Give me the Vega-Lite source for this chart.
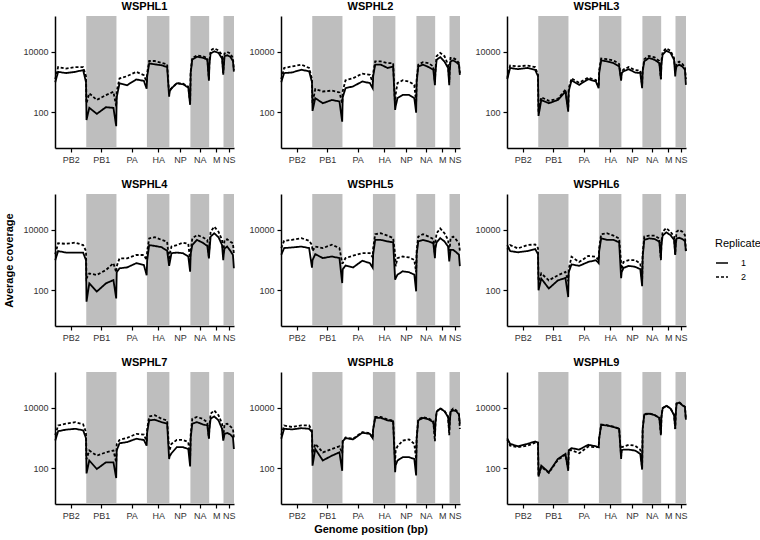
{
"$schema": "https://vega.github.io/schema/vega-lite/v6.json",
"padding": {"left": 3, "top": 1, "right": 0, "bottom": 2},
"background": "white",
"datasets": {
"seg": [{"g":"PB1","start":2380,"end":4680},{"g":"HA","start":7000,"end":8710},{"g":"NA","start":10310,"end":11740},{"g":"NS","start":12830,"end":13630}],
"cov": [
{"s":"WSPHL1","x":20,"1":1000,"2":1260},{"s":"WSPHL1","x":238,"1":2190,"2":3160},{"s":"WSPHL1","x":833,"1":2000,"2":2820},{"s":"WSPHL1","x":1547,"1":2190,"2":3160},{"s":"WSPHL1","x":2142,"1":2510,"2":3160},{"s":"WSPHL1","x":2360,"1":1000,"2":1580},
{"s":"WSPHL1","x":2400,"1":56,"2":200},{"s":"WSPHL1","x":2610,"1":141,"2":427},{"s":"WSPHL1","x":3185,"1":89,"2":257},{"s":"WSPHL1","x":3875,"1":148,"2":372},{"s":"WSPHL1","x":4450,"1":141,"2":479},{"s":"WSPHL1","x":4660,"1":35,"2":158},
{"s":"WSPHL1","x":4700,"1":316,"2":501},{"s":"WSPHL1","x":4912,"1":912,"2":1320},{"s":"WSPHL1","x":5492,"1":794,"2":1580},{"s":"WSPHL1","x":6188,"1":1230,"2":2190},{"s":"WSPHL1","x":6768,"1":1100,"2":1700},{"s":"WSPHL1","x":6980,"1":603,"2":1000},
{"s":"WSPHL1","x":7020,"1":1580,"2":2000},{"s":"WSPHL1","x":7171,"1":4170,"2":5010},{"s":"WSPHL1","x":7599,"1":3890,"2":5010},{"s":"WSPHL1","x":8112,"1":3630,"2":4370},{"s":"WSPHL1","x":8539,"1":3160,"2":3890},{"s":"WSPHL1","x":8690,"1":331,"2":398},
{"s":"WSPHL1","x":8730,"1":501,"2":562},{"s":"WSPHL1","x":8870,"1":617,"2":631},{"s":"WSPHL1","x":9270,"1":912,"2":933},{"s":"WSPHL1","x":9750,"1":851,"2":891},{"s":"WSPHL1","x":10150,"1":661,"2":708},{"s":"WSPHL1","x":10290,"1":178,"2":200},
{"s":"WSPHL1","x":10330,"1":2000,"2":2240},{"s":"WSPHL1","x":10453,"1":5620,"2":6310},{"s":"WSPHL1","x":10811,"1":6920,"2":7590},{"s":"WSPHL1","x":11240,"1":6460,"2":7240},{"s":"WSPHL1","x":11597,"1":5620,"2":6310},{"s":"WSPHL1","x":11720,"1":1120,"2":1260},
{"s":"WSPHL1","x":11760,"1":3980,"2":5010},{"s":"WSPHL1","x":11849,"1":8910,"2":11200},{"s":"WSPHL1","x":12122,"1":10500,"2":13200},{"s":"WSPHL1","x":12449,"1":9330,"2":11200},{"s":"WSPHL1","x":12721,"1":6030,"2":7940},{"s":"WSPHL1","x":12810,"1":1780,"2":2000},
{"s":"WSPHL1","x":12850,"1":3160,"2":3980},{"s":"WSPHL1","x":12910,"1":7240,"2":8910},{"s":"WSPHL1","x":13110,"1":7760,"2":10000},{"s":"WSPHL1","x":13350,"1":6920,"2":8910},{"s":"WSPHL1","x":13550,"1":5010,"2":6310},{"s":"WSPHL1","x":13620,"1":2240,"2":2510},

{"s":"WSPHL2","x":20,"1":1000,"2":1260},{"s":"WSPHL2","x":238,"1":2000,"2":2950},{"s":"WSPHL2","x":833,"1":2090,"2":3310},{"s":"WSPHL2","x":1547,"1":2570,"2":3800},{"s":"WSPHL2","x":2142,"1":2290,"2":2950},{"s":"WSPHL2","x":2360,"1":1000,"2":1260},
{"s":"WSPHL2","x":2400,"1":112,"2":200},{"s":"WSPHL2","x":2610,"1":295,"2":589},{"s":"WSPHL2","x":3185,"1":200,"2":490},{"s":"WSPHL2","x":3875,"1":257,"2":525},{"s":"WSPHL2","x":4450,"1":229,"2":457},{"s":"WSPHL2","x":4660,"1":49,"2":200},
{"s":"WSPHL2","x":4700,"1":316,"2":501},{"s":"WSPHL2","x":4912,"1":631,"2":1150},{"s":"WSPHL2","x":5492,"1":724,"2":1350},{"s":"WSPHL2","x":6188,"1":1050,"2":1910},{"s":"WSPHL2","x":6768,"1":933,"2":1740},{"s":"WSPHL2","x":6980,"1":631,"2":1000},
{"s":"WSPHL2","x":7020,"1":1580,"2":2000},{"s":"WSPHL2","x":7171,"1":3800,"2":4900},{"s":"WSPHL2","x":7599,"1":3800,"2":4900},{"s":"WSPHL2","x":8112,"1":2950,"2":4270},{"s":"WSPHL2","x":8539,"1":3310,"2":4270},{"s":"WSPHL2","x":8690,"1":120,"2":158},
{"s":"WSPHL2","x":8730,"1":158,"2":398},{"s":"WSPHL2","x":8870,"1":295,"2":933},{"s":"WSPHL2","x":9270,"1":380,"2":1150},{"s":"WSPHL2","x":9750,"1":380,"2":1050},{"s":"WSPHL2","x":10150,"1":295,"2":813},{"s":"WSPHL2","x":10290,"1":98,"2":200},
{"s":"WSPHL2","x":10330,"1":1000,"2":1260},{"s":"WSPHL2","x":10453,"1":3310,"2":3800},{"s":"WSPHL2","x":10811,"1":3800,"2":4570},{"s":"WSPHL2","x":11240,"1":3160,"2":4270},{"s":"WSPHL2","x":11597,"1":2570,"2":3310},{"s":"WSPHL2","x":11720,"1":794,"2":1000},
{"s":"WSPHL2","x":11760,"1":2000,"2":2510},{"s":"WSPHL2","x":11849,"1":5500,"2":7240},{"s":"WSPHL2","x":12122,"1":6760,"2":9330},{"s":"WSPHL2","x":12449,"1":4790,"2":7240},{"s":"WSPHL2","x":12721,"1":2950,"2":3800},{"s":"WSPHL2","x":12810,"1":794,"2":1000},
{"s":"WSPHL2","x":12850,"1":2510,"2":3160},{"s":"WSPHL2","x":12910,"1":4900,"2":6310},{"s":"WSPHL2","x":13110,"1":5250,"2":6310},{"s":"WSPHL2","x":13350,"1":4570,"2":5500},{"s":"WSPHL2","x":13550,"1":3800,"2":4270},{"s":"WSPHL2","x":13620,"1":1740,"2":2000},

{"s":"WSPHL3","x":20,"1":1260,"2":1410},{"s":"WSPHL3","x":238,"1":2950,"2":3550},{"s":"WSPHL3","x":833,"1":2690,"2":3310},{"s":"WSPHL3","x":1547,"1":2950,"2":3550},{"s":"WSPHL3","x":2142,"1":2570,"2":3160},{"s":"WSPHL3","x":2360,"1":1580,"2":1780},
{"s":"WSPHL3","x":2400,"1":76,"2":100},{"s":"WSPHL3","x":2610,"1":257,"2":316},{"s":"WSPHL3","x":3185,"1":200,"2":240},{"s":"WSPHL3","x":3875,"1":257,"2":282},{"s":"WSPHL3","x":4450,"1":490,"2":562},{"s":"WSPHL3","x":4660,"1":105,"2":126},
{"s":"WSPHL3","x":4700,"1":501,"2":631},{"s":"WSPHL3","x":4912,"1":1150,"2":1320},{"s":"WSPHL3","x":5492,"1":813,"2":955},{"s":"WSPHL3","x":6188,"1":1260,"2":1410},{"s":"WSPHL3","x":6768,"1":1050,"2":1170},{"s":"WSPHL3","x":6980,"1":631,"2":708},
{"s":"WSPHL3","x":7020,"1":2000,"2":2510},{"s":"WSPHL3","x":7171,"1":5250,"2":6030},{"s":"WSPHL3","x":7599,"1":4900,"2":5750},{"s":"WSPHL3","x":8112,"1":4270,"2":5250},{"s":"WSPHL3","x":8539,"1":3310,"2":3980},{"s":"WSPHL3","x":8690,"1":1120,"2":1260},
{"s":"WSPHL3","x":8730,"1":2000,"2":2240},{"s":"WSPHL3","x":8870,"1":2290,"2":2630},{"s":"WSPHL3","x":9270,"1":2690,"2":3160},{"s":"WSPHL3","x":9750,"1":2090,"2":2510},{"s":"WSPHL3","x":10150,"1":2000,"2":2400},{"s":"WSPHL3","x":10290,"1":631,"2":794},
{"s":"WSPHL3","x":10330,"1":2240,"2":2510},{"s":"WSPHL3","x":10453,"1":4900,"2":5750},{"s":"WSPHL3","x":10811,"1":6310,"2":7410},{"s":"WSPHL3","x":11240,"1":5500,"2":6610},{"s":"WSPHL3","x":11597,"1":4270,"2":5010},{"s":"WSPHL3","x":11720,"1":1260,"2":1260},
{"s":"WSPHL3","x":11760,"1":3980,"2":5010},{"s":"WSPHL3","x":11849,"1":8130,"2":10000},{"s":"WSPHL3","x":12122,"1":11000,"2":13200},{"s":"WSPHL3","x":12449,"1":9330,"2":11000},{"s":"WSPHL3","x":12721,"1":5500,"2":6310},{"s":"WSPHL3","x":12810,"1":1550,"2":2240},
{"s":"WSPHL3","x":12850,"1":2510,"2":3160},{"s":"WSPHL3","x":12910,"1":3310,"2":4170},{"s":"WSPHL3","x":13110,"1":3800,"2":4790},{"s":"WSPHL3","x":13350,"1":3310,"2":3980},{"s":"WSPHL3","x":13550,"1":2570,"2":3160},{"s":"WSPHL3","x":13620,"1":813,"2":1260},

{"s":"WSPHL4","x":20,"1":1000,"2":1580},{"s":"WSPHL4","x":238,"1":2000,"2":3630},{"s":"WSPHL4","x":833,"1":1780,"2":3470},{"s":"WSPHL4","x":1547,"1":1780,"2":3800},{"s":"WSPHL4","x":2142,"1":1780,"2":3160},{"s":"WSPHL4","x":2360,"1":1000,"2":2000},
{"s":"WSPHL4","x":2400,"1":42,"2":251},{"s":"WSPHL4","x":2610,"1":170,"2":363},{"s":"WSPHL4","x":3185,"1":91,"2":324},{"s":"WSPHL4","x":3875,"1":170,"2":468},{"s":"WSPHL4","x":4450,"1":219,"2":794},{"s":"WSPHL4","x":4660,"1":54,"2":398},
{"s":"WSPHL4","x":4700,"1":398,"2":631},{"s":"WSPHL4","x":4912,"1":537,"2":1150},{"s":"WSPHL4","x":5492,"1":575,"2":1150},{"s":"WSPHL4","x":6188,"1":794,"2":1480},{"s":"WSPHL4","x":6768,"1":692,"2":1480},{"s":"WSPHL4","x":6980,"1":316,"2":1000},
{"s":"WSPHL4","x":7020,"1":1000,"2":2000},{"s":"WSPHL4","x":7171,"1":3160,"2":5250},{"s":"WSPHL4","x":7599,"1":2950,"2":5750},{"s":"WSPHL4","x":8112,"1":2690,"2":4680},{"s":"WSPHL4","x":8539,"1":2040,"2":4070},{"s":"WSPHL4","x":8690,"1":646,"2":1000},
{"s":"WSPHL4","x":8730,"1":794,"2":1580},{"s":"WSPHL4","x":8870,"1":1700,"2":2820},{"s":"WSPHL4","x":9270,"1":1780,"2":3160},{"s":"WSPHL4","x":9750,"1":1700,"2":3800},{"s":"WSPHL4","x":10150,"1":1320,"2":3470},{"s":"WSPHL4","x":10290,"1":417,"2":1000},
{"s":"WSPHL4","x":10330,"1":1580,"2":2000},{"s":"WSPHL4","x":10453,"1":3160,"2":5250},{"s":"WSPHL4","x":10811,"1":4680,"2":6760},{"s":"WSPHL4","x":11240,"1":3800,"2":5750},{"s":"WSPHL4","x":11597,"1":2950,"2":4680},{"s":"WSPHL4","x":11720,"1":1150,"2":1260},
{"s":"WSPHL4","x":11760,"1":2000,"2":3160},{"s":"WSPHL4","x":11849,"1":6030,"2":8710},{"s":"WSPHL4","x":12122,"1":7760,"2":12900},{"s":"WSPHL4","x":12449,"1":5750,"2":8710},{"s":"WSPHL4","x":12721,"1":3160,"2":4680},{"s":"WSPHL4","x":12810,"1":1000,"2":1580},
{"s":"WSPHL4","x":12850,"1":1580,"2":2510},{"s":"WSPHL4","x":12910,"1":2450,"2":4680},{"s":"WSPHL4","x":13110,"1":2820,"2":4900},{"s":"WSPHL4","x":13350,"1":2040,"2":4070},{"s":"WSPHL4","x":13550,"1":1480,"2":3630},{"s":"WSPHL4","x":13620,"1":537,"2":1580},

{"s":"WSPHL5","x":20,"1":1510,"2":2510},{"s":"WSPHL5","x":238,"1":2510,"2":4370},{"s":"WSPHL5","x":833,"1":2630,"2":4680},{"s":"WSPHL5","x":1547,"1":2820,"2":5370},{"s":"WSPHL5","x":2142,"1":2510,"2":4370},{"s":"WSPHL5","x":2360,"1":562,"2":3160},
{"s":"WSPHL5","x":2400,"1":1000,"2":2000},{"s":"WSPHL5","x":2610,"1":1580,"2":2820},{"s":"WSPHL5","x":3185,"1":1170,"2":2510},{"s":"WSPHL5","x":3875,"1":1320,"2":3240},{"s":"WSPHL5","x":4450,"1":1170,"2":2510},{"s":"WSPHL5","x":4660,"1":174,"2":794},
{"s":"WSPHL5","x":4700,"1":501,"2":794},{"s":"WSPHL5","x":4912,"1":661,"2":1170},{"s":"WSPHL5","x":5492,"1":575,"2":1410},{"s":"WSPHL5","x":6188,"1":955,"2":1700},{"s":"WSPHL5","x":6768,"1":794,"2":1700},{"s":"WSPHL5","x":6980,"1":562,"2":1260},
{"s":"WSPHL5","x":7020,"1":1580,"2":2510},{"s":"WSPHL5","x":7171,"1":4680,"2":7240},{"s":"WSPHL5","x":7599,"1":4680,"2":7760},{"s":"WSPHL5","x":8112,"1":4170,"2":6460},{"s":"WSPHL5","x":8539,"1":3890,"2":5370},{"s":"WSPHL5","x":8690,"1":224,"2":1580},
{"s":"WSPHL5","x":8730,"1":251,"2":631},{"s":"WSPHL5","x":8870,"1":331,"2":1170},{"s":"WSPHL5","x":9270,"1":427,"2":1320},{"s":"WSPHL5","x":9750,"1":398,"2":1230},{"s":"WSPHL5","x":10150,"1":331,"2":1020},{"s":"WSPHL5","x":10290,"1":93,"2":398},
{"s":"WSPHL5","x":10330,"1":1580,"2":2000},{"s":"WSPHL5","x":10453,"1":4170,"2":6030},{"s":"WSPHL5","x":10811,"1":4680,"2":7240},{"s":"WSPHL5","x":11240,"1":4170,"2":6030},{"s":"WSPHL5","x":11597,"1":3630,"2":5010},{"s":"WSPHL5","x":11720,"1":1170,"2":1580},
{"s":"WSPHL5","x":11760,"1":2510,"2":3980},{"s":"WSPHL5","x":11849,"1":3890,"2":7760},{"s":"WSPHL5","x":12122,"1":5370,"2":11200},{"s":"WSPHL5","x":12449,"1":4170,"2":7760},{"s":"WSPHL5","x":12721,"1":2820,"2":4680},{"s":"WSPHL5","x":12810,"1":912,"2":2000},
{"s":"WSPHL5","x":12850,"1":1260,"2":2510},{"s":"WSPHL5","x":12910,"1":2190,"2":5370},{"s":"WSPHL5","x":13110,"1":2190,"2":6030},{"s":"WSPHL5","x":13350,"1":1820,"2":4680},{"s":"WSPHL5","x":13550,"1":1510,"2":3630},{"s":"WSPHL5","x":13620,"1":631,"2":2000},

{"s":"WSPHL6","x":20,"1":3160,"2":2240},{"s":"WSPHL6","x":238,"1":2000,"2":3160},{"s":"WSPHL6","x":833,"1":1820,"2":2450},{"s":"WSPHL6","x":1547,"1":2000,"2":3160},{"s":"WSPHL6","x":2142,"1":2340,"2":3310},{"s":"WSPHL6","x":2360,"1":1580,"2":2510},
{"s":"WSPHL6","x":2400,"1":100,"2":200},{"s":"WSPHL6","x":2610,"1":245,"2":363},{"s":"WSPHL6","x":3185,"1":115,"2":214},{"s":"WSPHL6","x":3875,"1":214,"2":316},{"s":"WSPHL6","x":4450,"1":257,"2":407},{"s":"WSPHL6","x":4660,"1":60,"2":200},
{"s":"WSPHL6","x":4700,"1":398,"2":501},{"s":"WSPHL6","x":4912,"1":724,"2":1290},{"s":"WSPHL6","x":5492,"1":646,"2":871},{"s":"WSPHL6","x":6188,"1":871,"2":1380},{"s":"WSPHL6","x":6768,"1":1000,"2":1290},{"s":"WSPHL6","x":6980,"1":794,"2":1000},
{"s":"WSPHL6","x":7020,"1":2000,"2":2510},{"s":"WSPHL6","x":7171,"1":5250,"2":7240},{"s":"WSPHL6","x":7599,"1":4680,"2":7760},{"s":"WSPHL6","x":8112,"1":4680,"2":6460},{"s":"WSPHL6","x":8539,"1":3890,"2":5250},{"s":"WSPHL6","x":8690,"1":251,"2":794},
{"s":"WSPHL6","x":8730,"1":398,"2":501},{"s":"WSPHL6","x":8870,"1":550,"2":871},{"s":"WSPHL6","x":9270,"1":646,"2":1000},{"s":"WSPHL6","x":9750,"1":603,"2":1000},{"s":"WSPHL6","x":10150,"1":501,"2":776},{"s":"WSPHL6","x":10290,"1":138,"2":200},
{"s":"WSPHL6","x":10330,"1":1260,"2":1580},{"s":"WSPHL6","x":10453,"1":4680,"2":6030},{"s":"WSPHL6","x":10811,"1":5250,"2":6460},{"s":"WSPHL6","x":11240,"1":5010,"2":6460},{"s":"WSPHL6","x":11597,"1":4070,"2":5250},{"s":"WSPHL6","x":11720,"1":1150,"2":1000},
{"s":"WSPHL6","x":11760,"1":3160,"2":3980},{"s":"WSPHL6","x":11849,"1":6460,"2":8710},{"s":"WSPHL6","x":12122,"1":8320,"2":11500},{"s":"WSPHL6","x":12449,"1":6760,"2":8710},{"s":"WSPHL6","x":12721,"1":4680,"2":6030},{"s":"WSPHL6","x":12810,"1":1480,"2":1580},
{"s":"WSPHL6","x":12850,"1":3160,"2":3980},{"s":"WSPHL6","x":12910,"1":5250,"2":8710},{"s":"WSPHL6","x":13110,"1":5500,"2":10000},{"s":"WSPHL6","x":13350,"1":5010,"2":8710},{"s":"WSPHL6","x":13550,"1":4270,"2":6760},{"s":"WSPHL6","x":13620,"1":2000,"2":2000},

{"s":"WSPHL7","x":20,"1":832,"2":1260},{"s":"WSPHL7","x":238,"1":1700,"2":2630},{"s":"WSPHL7","x":833,"1":1910,"2":3020},{"s":"WSPHL7","x":1547,"1":2040,"2":3390},{"s":"WSPHL7","x":2142,"1":1820,"2":2880},{"s":"WSPHL7","x":2360,"1":1000,"2":1580},
{"s":"WSPHL7","x":2400,"1":68,"2":200},{"s":"WSPHL7","x":2610,"1":182,"2":389},{"s":"WSPHL7","x":3185,"1":95,"2":263},{"s":"WSPHL7","x":3875,"1":158,"2":339},{"s":"WSPHL7","x":4450,"1":158,"2":389},{"s":"WSPHL7","x":4660,"1":48,"2":158},
{"s":"WSPHL7","x":4700,"1":398,"2":631},{"s":"WSPHL7","x":4912,"1":676,"2":871},{"s":"WSPHL7","x":5492,"1":741,"2":1020},{"s":"WSPHL7","x":6188,"1":955,"2":1380},{"s":"WSPHL7","x":6768,"1":871,"2":1320},{"s":"WSPHL7","x":6980,"1":562,"2":794},
{"s":"WSPHL7","x":7020,"1":1580,"2":2000},{"s":"WSPHL7","x":7171,"1":3890,"2":5250},{"s":"WSPHL7","x":7599,"1":4070,"2":5750},{"s":"WSPHL7","x":8112,"1":3390,"2":4370},{"s":"WSPHL7","x":8539,"1":3020,"2":3890},{"s":"WSPHL7","x":8690,"1":204,"2":398},
{"s":"WSPHL7","x":8730,"1":251,"2":398},{"s":"WSPHL7","x":8870,"1":316,"2":646},{"s":"WSPHL7","x":9270,"1":501,"2":871},{"s":"WSPHL7","x":9750,"1":501,"2":871},{"s":"WSPHL7","x":10150,"1":437,"2":741},{"s":"WSPHL7","x":10290,"1":115,"2":200},
{"s":"WSPHL7","x":10330,"1":1000,"2":1260},{"s":"WSPHL7","x":10453,"1":3020,"2":4370},{"s":"WSPHL7","x":10811,"1":3390,"2":5010},{"s":"WSPHL7","x":11240,"1":2880,"2":4370},{"s":"WSPHL7","x":11597,"1":2630,"2":3390},{"s":"WSPHL7","x":11720,"1":955,"2":1000},
{"s":"WSPHL7","x":11760,"1":2000,"2":2510},{"s":"WSPHL7","x":11849,"1":4370,"2":6460},{"s":"WSPHL7","x":12122,"1":5250,"2":8320},{"s":"WSPHL7","x":12449,"1":3890,"2":5750},{"s":"WSPHL7","x":12721,"1":2040,"2":3020},{"s":"WSPHL7","x":12810,"1":832,"2":1000},
{"s":"WSPHL7","x":12850,"1":1000,"2":1580},{"s":"WSPHL7","x":12910,"1":1380,"2":2880},{"s":"WSPHL7","x":13110,"1":1480,"2":3020},{"s":"WSPHL7","x":13350,"1":1320,"2":2450},{"s":"WSPHL7","x":13550,"1":1070,"2":2040},{"s":"WSPHL7","x":13620,"1":437,"2":1000},

{"s":"WSPHL8","x":20,"1":955,"2":1260},{"s":"WSPHL8","x":238,"1":2040,"2":2630},{"s":"WSPHL8","x":833,"1":1950,"2":2340},{"s":"WSPHL8","x":1547,"1":2140,"2":2630},{"s":"WSPHL8","x":2142,"1":2040,"2":2630},{"s":"WSPHL8","x":2360,"1":1580,"2":1780},
{"s":"WSPHL8","x":2400,"1":123,"2":316},{"s":"WSPHL8","x":2610,"1":437,"2":646},{"s":"WSPHL8","x":3185,"1":182,"2":339},{"s":"WSPHL8","x":3875,"1":263,"2":437},{"s":"WSPHL8","x":4450,"1":339,"2":537},{"s":"WSPHL8","x":4660,"1":83,"2":316},
{"s":"WSPHL8","x":4700,"1":794,"2":794},{"s":"WSPHL8","x":4912,"1":1000,"2":1050},{"s":"WSPHL8","x":5492,"1":912,"2":955},{"s":"WSPHL8","x":6188,"1":1510,"2":1580},{"s":"WSPHL8","x":6768,"1":1380,"2":1450},{"s":"WSPHL8","x":6980,"1":1000,"2":1000},
{"s":"WSPHL8","x":7020,"1":2000,"2":2000},{"s":"WSPHL8","x":7171,"1":4680,"2":5010},{"s":"WSPHL8","x":7599,"1":4680,"2":5010},{"s":"WSPHL8","x":8112,"1":3890,"2":4170},{"s":"WSPHL8","x":8539,"1":3630,"2":3800},{"s":"WSPHL8","x":8690,"1":74,"2":158},
{"s":"WSPHL8","x":8730,"1":126,"2":398},{"s":"WSPHL8","x":8870,"1":182,"2":537},{"s":"WSPHL8","x":9270,"1":234,"2":832},{"s":"WSPHL8","x":9750,"1":234,"2":912},{"s":"WSPHL8","x":10150,"1":204,"2":646},{"s":"WSPHL8","x":10290,"1":58,"2":200},
{"s":"WSPHL8","x":10330,"1":1000,"2":1000},{"s":"WSPHL8","x":10453,"1":3890,"2":4170},{"s":"WSPHL8","x":10811,"1":4680,"2":5010},{"s":"WSPHL8","x":11240,"1":4170,"2":4470},{"s":"WSPHL8","x":11597,"1":3390,"2":3630},{"s":"WSPHL8","x":11720,"1":1230,"2":794},
{"s":"WSPHL8","x":11760,"1":3160,"2":3160},{"s":"WSPHL8","x":11849,"1":7410,"2":7590},{"s":"WSPHL8","x":12122,"1":9550,"2":9770},{"s":"WSPHL8","x":12449,"1":7760,"2":7940},{"s":"WSPHL8","x":12721,"1":5010,"2":5250},{"s":"WSPHL8","x":12810,"1":1820,"2":1260},
{"s":"WSPHL8","x":12850,"1":3160,"2":3160},{"s":"WSPHL8","x":12910,"1":7410,"2":7940},{"s":"WSPHL8","x":13110,"1":8320,"2":9550},{"s":"WSPHL8","x":13350,"1":7760,"2":8320},{"s":"WSPHL8","x":13550,"1":6030,"2":6310},{"s":"WSPHL8","x":13620,"1":3020,"2":2000},

{"s":"WSPHL9","x":20,"1":977,"2":891},{"s":"WSPHL9","x":238,"1":646,"2":562},{"s":"WSPHL9","x":833,"1":537,"2":501},{"s":"WSPHL9","x":1547,"1":646,"2":562},{"s":"WSPHL9","x":2142,"1":776,"2":708},{"s":"WSPHL9","x":2360,"1":708,"2":708},
{"s":"WSPHL9","x":2400,"1":54,"2":56},{"s":"WSPHL9","x":2610,"1":123,"2":112},{"s":"WSPHL9","x":3185,"1":74,"2":71},{"s":"WSPHL9","x":3875,"1":204,"2":191},{"s":"WSPHL9","x":4450,"1":302,"2":282},{"s":"WSPHL9","x":4660,"1":83,"2":100},
{"s":"WSPHL9","x":4700,"1":398,"2":398},{"s":"WSPHL9","x":4912,"1":468,"2":398},{"s":"WSPHL9","x":5492,"1":417,"2":316},{"s":"WSPHL9","x":6188,"1":603,"2":525},{"s":"WSPHL9","x":6768,"1":537,"2":501},{"s":"WSPHL9","x":6980,"1":501,"2":501},
{"s":"WSPHL9","x":7020,"1":1000,"2":1000},{"s":"WSPHL9","x":7171,"1":2750,"2":2820},{"s":"WSPHL9","x":7599,"1":2630,"2":2690},{"s":"WSPHL9","x":8112,"1":2340,"2":2400},{"s":"WSPHL9","x":8539,"1":2040,"2":2090},{"s":"WSPHL9","x":8690,"1":204,"2":251},
{"s":"WSPHL9","x":8730,"1":398,"2":501},{"s":"WSPHL9","x":8870,"1":417,"2":525},{"s":"WSPHL9","x":9270,"1":417,"2":603},{"s":"WSPHL9","x":9750,"1":389,"2":562},{"s":"WSPHL9","x":10150,"1":302,"2":417},{"s":"WSPHL9","x":10290,"1":91,"2":100},
{"s":"WSPHL9","x":10330,"1":2000,"2":2000},{"s":"WSPHL9","x":10453,"1":6030,"2":6310},{"s":"WSPHL9","x":10811,"1":6460,"2":6610},{"s":"WSPHL9","x":11240,"1":5750,"2":5890},{"s":"WSPHL9","x":11597,"1":4680,"2":4790},{"s":"WSPHL9","x":11720,"1":1380,"2":1260},
{"s":"WSPHL9","x":11760,"1":5010,"2":5010},{"s":"WSPHL9","x":11849,"1":9550,"2":10000},{"s":"WSPHL9","x":12122,"1":11700,"2":12000},{"s":"WSPHL9","x":12449,"1":9550,"2":9770},{"s":"WSPHL9","x":12721,"1":5750,"2":5890},{"s":"WSPHL9","x":12810,"1":2040,"2":2000},
{"s":"WSPHL9","x":12850,"1":6310,"2":6310},{"s":"WSPHL9","x":12910,"1":13800,"2":14100},{"s":"WSPHL9","x":13110,"1":15100,"2":15500},{"s":"WSPHL9","x":13350,"1":12300,"2":12600},{"s":"WSPHL9","x":13550,"1":10700,"2":11000},{"s":"WSPHL9","x":13620,"1":4170,"2":3980}
]
},
"columns": 3,
"spacing": {"row": 46, "column": 47},
"bounds": "flush",
"concat": [
{"title":"WSPHL1","width":179,"height":132,"layer":[
{"data":{"name":"seg"},"mark":{"type":"rect","color":"#bebebe"},"encoding":{"x":{"field":"start","type":"quantitative","scale":{"domain":[0,13630],"nice":false,"zero":false},"axis":{"values":[1190,3530,5840,7855,9510,11025,12285,13230],"labelExpr":"datum.value < 2400 ? 'PB2' : datum.value < 4700 ? 'PB1' : datum.value < 7000 ? 'PA' : datum.value < 8700 ? 'HA' : datum.value < 10300 ? 'NP' : datum.value < 11700 ? 'NA' : datum.value < 12800 ? 'M' : 'NS'","title":null,"labelFlush":false,"labelOverlap":false}},"x2":{"field":"end"}}},
{"data":{"name":"cov"},"transform":[{"filter":"datum.s === 'WSPHL1'"},{"fold":["1","2"],"as":["Replicate","cov"]}],"mark":{"type":"line","color":"black","strokeWidth":1.8},"encoding":{"x":{"field":"x","type":"quantitative","axis":{"values":[1190,3530,5840,7855,9510,11025,12285,13230],"labelExpr":"datum.value < 2400 ? 'PB2' : datum.value < 4700 ? 'PB1' : datum.value < 7000 ? 'PA' : datum.value < 8700 ? 'HA' : datum.value < 10300 ? 'NP' : datum.value < 11700 ? 'NA' : datum.value < 12800 ? 'M' : 'NS'","title":null,"labelFlush":false,"labelOverlap":false}},"y":{"field":"cov","type":"quantitative","scale":{"type":"log","domain":[6.6,155000],"nice":false},"axis":{"values":[100,10000],"format":"d","title":null}},"strokeDash":{"field":"Replicate","type":"nominal","scale":{"domain":["1","2"],"range":[[1,0],[3,2]]},"legend":{"orient":"none","legendX":660,"legendY":222}}}}
]},
{"title":"WSPHL2","width":179,"height":132,"layer":[
{"data":{"name":"seg"},"mark":{"type":"rect","color":"#bebebe"},"encoding":{"x":{"field":"start","type":"quantitative","scale":{"domain":[0,13630],"nice":false,"zero":false},"axis":{"values":[1190,3530,5840,7855,9510,11025,12285,13230],"labelExpr":"datum.value < 2400 ? 'PB2' : datum.value < 4700 ? 'PB1' : datum.value < 7000 ? 'PA' : datum.value < 8700 ? 'HA' : datum.value < 10300 ? 'NP' : datum.value < 11700 ? 'NA' : datum.value < 12800 ? 'M' : 'NS'","title":null,"labelFlush":false,"labelOverlap":false}},"x2":{"field":"end"}}},
{"data":{"name":"cov"},"transform":[{"filter":"datum.s === 'WSPHL2'"},{"fold":["1","2"],"as":["Replicate","cov"]}],"mark":{"type":"line","color":"black","strokeWidth":1.8},"encoding":{"x":{"field":"x","type":"quantitative","axis":{"values":[1190,3530,5840,7855,9510,11025,12285,13230],"labelExpr":"datum.value < 2400 ? 'PB2' : datum.value < 4700 ? 'PB1' : datum.value < 7000 ? 'PA' : datum.value < 8700 ? 'HA' : datum.value < 10300 ? 'NP' : datum.value < 11700 ? 'NA' : datum.value < 12800 ? 'M' : 'NS'","title":null,"labelFlush":false,"labelOverlap":false}},"y":{"field":"cov","type":"quantitative","scale":{"type":"log","domain":[6.6,155000],"nice":false},"axis":{"values":[100,10000],"format":"d","title":null}},"strokeDash":{"field":"Replicate","type":"nominal","scale":{"domain":["1","2"],"range":[[1,0],[3,2]]},"legend":{"orient":"none","legendX":660,"legendY":222}}}}
]},
{"title":"WSPHL3","width":179,"height":132,"layer":[
{"data":{"name":"seg"},"mark":{"type":"rect","color":"#bebebe"},"encoding":{"x":{"field":"start","type":"quantitative","scale":{"domain":[0,13630],"nice":false,"zero":false},"axis":{"values":[1190,3530,5840,7855,9510,11025,12285,13230],"labelExpr":"datum.value < 2400 ? 'PB2' : datum.value < 4700 ? 'PB1' : datum.value < 7000 ? 'PA' : datum.value < 8700 ? 'HA' : datum.value < 10300 ? 'NP' : datum.value < 11700 ? 'NA' : datum.value < 12800 ? 'M' : 'NS'","title":null,"labelFlush":false,"labelOverlap":false}},"x2":{"field":"end"}}},
{"data":{"name":"cov"},"transform":[{"filter":"datum.s === 'WSPHL3'"},{"fold":["1","2"],"as":["Replicate","cov"]}],"mark":{"type":"line","color":"black","strokeWidth":1.8},"encoding":{"x":{"field":"x","type":"quantitative","axis":{"values":[1190,3530,5840,7855,9510,11025,12285,13230],"labelExpr":"datum.value < 2400 ? 'PB2' : datum.value < 4700 ? 'PB1' : datum.value < 7000 ? 'PA' : datum.value < 8700 ? 'HA' : datum.value < 10300 ? 'NP' : datum.value < 11700 ? 'NA' : datum.value < 12800 ? 'M' : 'NS'","title":null,"labelFlush":false,"labelOverlap":false}},"y":{"field":"cov","type":"quantitative","scale":{"type":"log","domain":[6.6,155000],"nice":false},"axis":{"values":[100,10000],"format":"d","title":null}},"strokeDash":{"field":"Replicate","type":"nominal","scale":{"domain":["1","2"],"range":[[1,0],[3,2]]},"legend":{"orient":"none","legendX":660,"legendY":222}}}}
]},
{"title":"WSPHL4","width":179,"height":132,"layer":[
{"data":{"name":"seg"},"mark":{"type":"rect","color":"#bebebe"},"encoding":{"x":{"field":"start","type":"quantitative","scale":{"domain":[0,13630],"nice":false,"zero":false},"axis":{"values":[1190,3530,5840,7855,9510,11025,12285,13230],"labelExpr":"datum.value < 2400 ? 'PB2' : datum.value < 4700 ? 'PB1' : datum.value < 7000 ? 'PA' : datum.value < 8700 ? 'HA' : datum.value < 10300 ? 'NP' : datum.value < 11700 ? 'NA' : datum.value < 12800 ? 'M' : 'NS'","title":null,"labelFlush":false,"labelOverlap":false}},"x2":{"field":"end"}}},
{"data":{"name":"cov"},"transform":[{"filter":"datum.s === 'WSPHL4'"},{"fold":["1","2"],"as":["Replicate","cov"]}],"mark":{"type":"line","color":"black","strokeWidth":1.8},"encoding":{"x":{"field":"x","type":"quantitative","axis":{"values":[1190,3530,5840,7855,9510,11025,12285,13230],"labelExpr":"datum.value < 2400 ? 'PB2' : datum.value < 4700 ? 'PB1' : datum.value < 7000 ? 'PA' : datum.value < 8700 ? 'HA' : datum.value < 10300 ? 'NP' : datum.value < 11700 ? 'NA' : datum.value < 12800 ? 'M' : 'NS'","title":null,"labelFlush":false,"labelOverlap":false}},"y":{"field":"cov","type":"quantitative","scale":{"type":"log","domain":[6.6,155000],"nice":false},"axis":{"values":[100,10000],"format":"d","title":"Average coverage","titlePadding":8}},"strokeDash":{"field":"Replicate","type":"nominal","scale":{"domain":["1","2"],"range":[[1,0],[3,2]]},"legend":{"orient":"none","legendX":660,"legendY":222}}}}
]},
{"title":"WSPHL5","width":179,"height":132,"layer":[
{"data":{"name":"seg"},"mark":{"type":"rect","color":"#bebebe"},"encoding":{"x":{"field":"start","type":"quantitative","scale":{"domain":[0,13630],"nice":false,"zero":false},"axis":{"values":[1190,3530,5840,7855,9510,11025,12285,13230],"labelExpr":"datum.value < 2400 ? 'PB2' : datum.value < 4700 ? 'PB1' : datum.value < 7000 ? 'PA' : datum.value < 8700 ? 'HA' : datum.value < 10300 ? 'NP' : datum.value < 11700 ? 'NA' : datum.value < 12800 ? 'M' : 'NS'","title":null,"labelFlush":false,"labelOverlap":false}},"x2":{"field":"end"}}},
{"data":{"name":"cov"},"transform":[{"filter":"datum.s === 'WSPHL5'"},{"fold":["1","2"],"as":["Replicate","cov"]}],"mark":{"type":"line","color":"black","strokeWidth":1.8},"encoding":{"x":{"field":"x","type":"quantitative","axis":{"values":[1190,3530,5840,7855,9510,11025,12285,13230],"labelExpr":"datum.value < 2400 ? 'PB2' : datum.value < 4700 ? 'PB1' : datum.value < 7000 ? 'PA' : datum.value < 8700 ? 'HA' : datum.value < 10300 ? 'NP' : datum.value < 11700 ? 'NA' : datum.value < 12800 ? 'M' : 'NS'","title":null,"labelFlush":false,"labelOverlap":false}},"y":{"field":"cov","type":"quantitative","scale":{"type":"log","domain":[6.6,155000],"nice":false},"axis":{"values":[100,10000],"format":"d","title":null}},"strokeDash":{"field":"Replicate","type":"nominal","scale":{"domain":["1","2"],"range":[[1,0],[3,2]]},"legend":{"orient":"none","legendX":660,"legendY":222}}}}
]},
{"title":"WSPHL6","width":179,"height":132,"layer":[
{"data":{"name":"seg"},"mark":{"type":"rect","color":"#bebebe"},"encoding":{"x":{"field":"start","type":"quantitative","scale":{"domain":[0,13630],"nice":false,"zero":false},"axis":{"values":[1190,3530,5840,7855,9510,11025,12285,13230],"labelExpr":"datum.value < 2400 ? 'PB2' : datum.value < 4700 ? 'PB1' : datum.value < 7000 ? 'PA' : datum.value < 8700 ? 'HA' : datum.value < 10300 ? 'NP' : datum.value < 11700 ? 'NA' : datum.value < 12800 ? 'M' : 'NS'","title":null,"labelFlush":false,"labelOverlap":false}},"x2":{"field":"end"}}},
{"data":{"name":"cov"},"transform":[{"filter":"datum.s === 'WSPHL6'"},{"fold":["1","2"],"as":["Replicate","cov"]}],"mark":{"type":"line","color":"black","strokeWidth":1.8},"encoding":{"x":{"field":"x","type":"quantitative","axis":{"values":[1190,3530,5840,7855,9510,11025,12285,13230],"labelExpr":"datum.value < 2400 ? 'PB2' : datum.value < 4700 ? 'PB1' : datum.value < 7000 ? 'PA' : datum.value < 8700 ? 'HA' : datum.value < 10300 ? 'NP' : datum.value < 11700 ? 'NA' : datum.value < 12800 ? 'M' : 'NS'","title":null,"labelFlush":false,"labelOverlap":false}},"y":{"field":"cov","type":"quantitative","scale":{"type":"log","domain":[6.6,155000],"nice":false},"axis":{"values":[100,10000],"format":"d","title":null}},"strokeDash":{"field":"Replicate","type":"nominal","scale":{"domain":["1","2"],"range":[[1,0],[3,2]]},"legend":{"orient":"none","legendX":660,"legendY":222}}}}
]},
{"title":"WSPHL7","width":179,"height":132,"layer":[
{"data":{"name":"seg"},"mark":{"type":"rect","color":"#bebebe"},"encoding":{"x":{"field":"start","type":"quantitative","scale":{"domain":[0,13630],"nice":false,"zero":false},"axis":{"values":[1190,3530,5840,7855,9510,11025,12285,13230],"labelExpr":"datum.value < 2400 ? 'PB2' : datum.value < 4700 ? 'PB1' : datum.value < 7000 ? 'PA' : datum.value < 8700 ? 'HA' : datum.value < 10300 ? 'NP' : datum.value < 11700 ? 'NA' : datum.value < 12800 ? 'M' : 'NS'","title":null,"labelFlush":false,"labelOverlap":false}},"x2":{"field":"end"}}},
{"data":{"name":"cov"},"transform":[{"filter":"datum.s === 'WSPHL7'"},{"fold":["1","2"],"as":["Replicate","cov"]}],"mark":{"type":"line","color":"black","strokeWidth":1.8},"encoding":{"x":{"field":"x","type":"quantitative","axis":{"values":[1190,3530,5840,7855,9510,11025,12285,13230],"labelExpr":"datum.value < 2400 ? 'PB2' : datum.value < 4700 ? 'PB1' : datum.value < 7000 ? 'PA' : datum.value < 8700 ? 'HA' : datum.value < 10300 ? 'NP' : datum.value < 11700 ? 'NA' : datum.value < 12800 ? 'M' : 'NS'","title":null,"labelFlush":false,"labelOverlap":false}},"y":{"field":"cov","type":"quantitative","scale":{"type":"log","domain":[6.6,155000],"nice":false},"axis":{"values":[100,10000],"format":"d","title":null}},"strokeDash":{"field":"Replicate","type":"nominal","scale":{"domain":["1","2"],"range":[[1,0],[3,2]]},"legend":{"orient":"none","legendX":660,"legendY":222}}}}
]},
{"title":"WSPHL8","width":179,"height":132,"layer":[
{"data":{"name":"seg"},"mark":{"type":"rect","color":"#bebebe"},"encoding":{"x":{"field":"start","type":"quantitative","scale":{"domain":[0,13630],"nice":false,"zero":false},"axis":{"values":[1190,3530,5840,7855,9510,11025,12285,13230],"labelExpr":"datum.value < 2400 ? 'PB2' : datum.value < 4700 ? 'PB1' : datum.value < 7000 ? 'PA' : datum.value < 8700 ? 'HA' : datum.value < 10300 ? 'NP' : datum.value < 11700 ? 'NA' : datum.value < 12800 ? 'M' : 'NS'","title":"Genome position (bp)","titlePadding":3,"labelFlush":false,"labelOverlap":false}},"x2":{"field":"end"}}},
{"data":{"name":"cov"},"transform":[{"filter":"datum.s === 'WSPHL8'"},{"fold":["1","2"],"as":["Replicate","cov"]}],"mark":{"type":"line","color":"black","strokeWidth":1.8},"encoding":{"x":{"field":"x","type":"quantitative","axis":{"values":[1190,3530,5840,7855,9510,11025,12285,13230],"labelExpr":"datum.value < 2400 ? 'PB2' : datum.value < 4700 ? 'PB1' : datum.value < 7000 ? 'PA' : datum.value < 8700 ? 'HA' : datum.value < 10300 ? 'NP' : datum.value < 11700 ? 'NA' : datum.value < 12800 ? 'M' : 'NS'","title":"Genome position (bp)","titlePadding":3,"labelFlush":false,"labelOverlap":false}},"y":{"field":"cov","type":"quantitative","scale":{"type":"log","domain":[6.6,155000],"nice":false},"axis":{"values":[100,10000],"format":"d","title":null}},"strokeDash":{"field":"Replicate","type":"nominal","scale":{"domain":["1","2"],"range":[[1,0],[3,2]]},"legend":{"orient":"none","legendX":660,"legendY":222}}}}
]},
{"title":"WSPHL9","width":179,"height":132,"layer":[
{"data":{"name":"seg"},"mark":{"type":"rect","color":"#bebebe"},"encoding":{"x":{"field":"start","type":"quantitative","scale":{"domain":[0,13630],"nice":false,"zero":false},"axis":{"values":[1190,3530,5840,7855,9510,11025,12285,13230],"labelExpr":"datum.value < 2400 ? 'PB2' : datum.value < 4700 ? 'PB1' : datum.value < 7000 ? 'PA' : datum.value < 8700 ? 'HA' : datum.value < 10300 ? 'NP' : datum.value < 11700 ? 'NA' : datum.value < 12800 ? 'M' : 'NS'","title":null,"labelFlush":false,"labelOverlap":false}},"x2":{"field":"end"}}},
{"data":{"name":"cov"},"transform":[{"filter":"datum.s === 'WSPHL9'"},{"fold":["1","2"],"as":["Replicate","cov"]}],"mark":{"type":"line","color":"black","strokeWidth":1.8},"encoding":{"x":{"field":"x","type":"quantitative","axis":{"values":[1190,3530,5840,7855,9510,11025,12285,13230],"labelExpr":"datum.value < 2400 ? 'PB2' : datum.value < 4700 ? 'PB1' : datum.value < 7000 ? 'PA' : datum.value < 8700 ? 'HA' : datum.value < 10300 ? 'NP' : datum.value < 11700 ? 'NA' : datum.value < 12800 ? 'M' : 'NS'","title":null,"labelFlush":false,"labelOverlap":false}},"y":{"field":"cov","type":"quantitative","scale":{"type":"log","domain":[6.6,155000],"nice":false},"axis":{"values":[100,10000],"format":"d","title":null}},"strokeDash":{"field":"Replicate","type":"nominal","scale":{"domain":["1","2"],"range":[[1,0],[3,2]]},"legend":{"orient":"none","legendX":660,"legendY":222}}}}
]}
],
"config": {
"font": "Liberation Sans",
"view": {"stroke": null},
"axis": {"grid": false, "domainColor": "black", "domainWidth": 1.5, "tickColor": "black", "tickWidth": 1.2, "tickSize": 4, "labelFontSize": 9, "labelColor": "#333333", "labelPadding": 3, "titleFontSize": 11, "titleFontWeight": "bold", "titleColor": "black"},
"title": {"fontSize": 11, "fontWeight": "bold", "color": "black", "offset": 4},
"legend": {"titleFontSize": 11, "titleFontWeight": "normal", "titleColor": "black", "labelFontSize": 9, "labelColor": "black", "symbolSize": 144, "symbolStrokeWidth": 1.5, "rowPadding": 2, "labelOffset": 12, "titlePadding": 7, "padding": 0}
}
}
